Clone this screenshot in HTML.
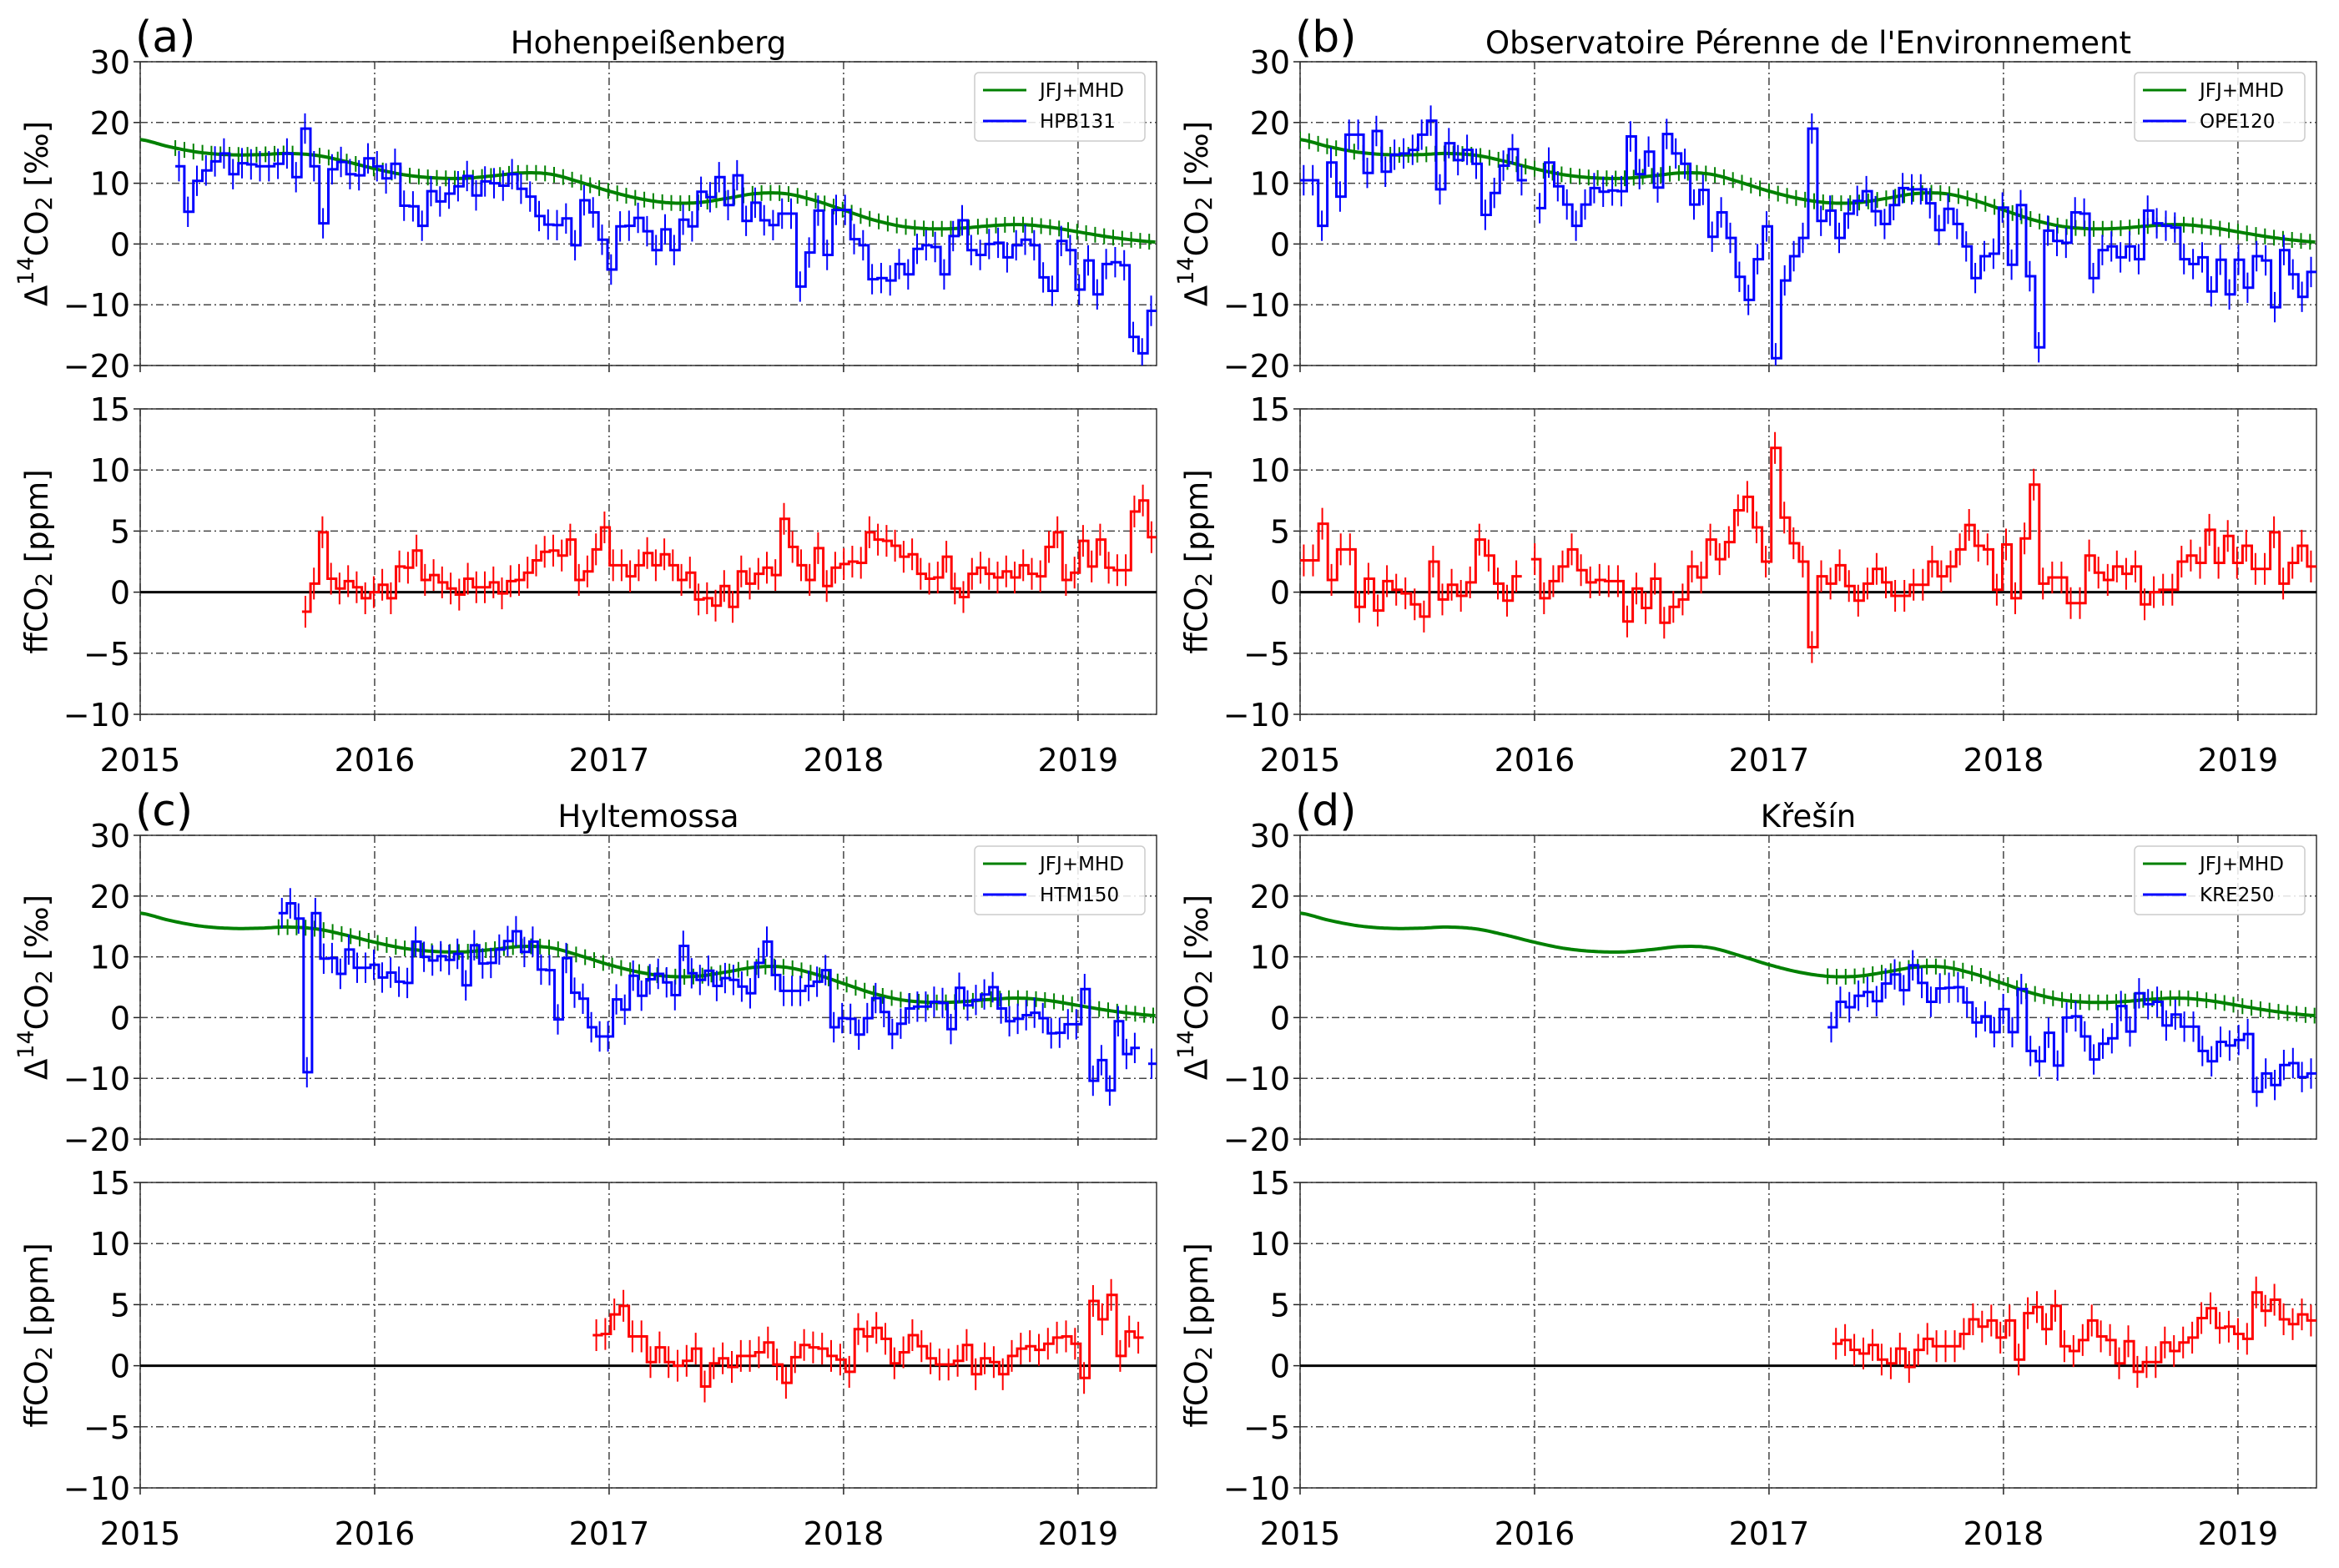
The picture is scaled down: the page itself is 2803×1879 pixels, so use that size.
<!DOCTYPE html>
<html><head><meta charset="utf-8"><style>
html,body{margin:0;padding:0;background:#fff;}
svg{display:block;font-family:"DejaVu Sans","Liberation Sans",sans-serif;}
</style></head><body>
<svg id="fig" xmlns="http://www.w3.org/2000/svg" width="2803" height="1879" viewBox="0 0 2803 1879"></svg>
<script>
// ---- shared reference curve (JFJ+MHD) ----
const greenYears=[2015,2015.125,2015.25,2015.375,2015.5,2015.625,2015.75,2015.875,2016,2016.125,2016.25,2016.375,2016.5,2016.625,2016.75,2016.875,2017,2017.125,2017.25,2017.375,2017.5,2017.625,2017.75,2017.875,2018,2018.125,2018.25,2018.375,2018.5,2018.625,2018.75,2018.875,2019,2019.125,2019.25,2019.34];
const greenVals=[17.2,16.0,15.1,14.7,14.7,14.9,14.6,13.6,12.4,11.4,10.9,10.8,11.2,11.7,11.5,10.2,8.7,7.5,6.8,6.8,7.5,8.3,8.3,7.2,5.6,4.0,2.9,2.5,2.6,3.0,3.2,2.8,2.0,1.2,0.6,0.3];
const xTickLabels=["2015","2016","2017","2018","2019"];
const topTickLabels=["30","20","10","0","\u221210","\u221220"];
const topTickVals=[30,20,10,0,-10,-20];
const botTickLabels=["15","10","5","0","\u22125","\u221210"];
const botTickVals=[15,10,5,0,-5,-10];

// ---- (a) Hohenpeissenberg ----
const aBlueRange=[2015.15,2019.335];
const aBlue=[12.8,5.3,10.4,12.1,13.6,14.9,11.5,13.3,13.1,12.8,12.8,13.2,14.9,11.0,19.0,12.8,3.4,12.3,13.5,11.5,11.3,14.1,12.8,10.8,13.2,6.3,
6.2,3,8.7,7,8.3,9.5,11.2,8,10.3,10,9.6,11.5,9.1,7.8,4.6,3.2,3.1,4.2,-0.2,7.2,5.2,0.7,-4.2,2.9,3,4.3,2.1,-1,2.4,-1,4,2.9,8.6,7.7,11,6.4,11.3,3.8,6.8,3.9,3.1,5,5,-7,-1.4,5.5,-1.8,5.6,5.6,0.8,-0.2,-5.8,-5.6,-6,-3.3,-5,-0.8,-0.2,-0.5,-5,1.3,3.9,-1,-1.8,0,0.2,-2.2,-0.2,0.7,-0.2,-5.5,-7.7,0.5,-1,-7.5,-2.7,-8.3,-3.3,-3,-3.5,-15.3,-18,-11];
const aRedRange=[2015.69,2019.335];
const aRed=[-1.6,0.7,4.9,1.1,0.3,0.9,0.4,-0.5,0,0.6,-0.5,2.1,2.0,3.4,1,1.4,0.8,0.3,-0.2,1.1,0.4,0.4,0.8,-0.1,0.9,1,1.6,2.6,3.3,3.4,3,4.3,1,1.7,3.5,5.3,2.2,2.2,1.3,2.2,3.2,2.2,3.1,2.2,1,1.6,-0.6,-0.5,-1.1,0.5,-1.2,1.7,0.7,1.5,2,1.4,6,3.7,2.2,1,3.6,0.5,2,2.3,2.5,2.4,4.9,4.3,4.2,3.8,2.9,3.1,1.5,1.1,1.2,2.9,0.3,-0.4,1.5,2,1.5,1.2,1.7,1.2,2.2,1.5,1.3,3.7,4.9,1,1.6,4.2,2.1,4.3,2,1.8,1.8,6.6,7.5,4.5];

// ---- (b) OPE ----
const bBlueRange=[2015.0,2019.335];
const bBlue=[10.5,10.5,3,13.4,7.8,18,18,11.7,18.6,11.9,14.7,14.9,15.5,18,20.3,9,16.6,13.8,15.5,13.2,4.8,8.4,12.9,15.6,10.5,null,5.9,13.4,9.5,6.5,3,6.5,9.2,8.6,8.8,8.7,17.7,11.5,15.2,9.3,18.1,14.9,13.2,6.5,8.9,1.2,5.2,1,-5.4,-9.2,-2.5,2.9,-18.8,-6,-2,1,19,3.8,5.5,1,5,7.1,8.7,5.4,3.3,6.4,9.2,9,9,6.7,2.3,5.8,3.3,-0.4,-5.6,-2,-1.6,6,-3.4,6.4,-5.3,-17,2.2,0.5,0.2,5.2,5,-5.6,-1,-0.4,-2.2,-0.4,-2.5,5.5,3.4,3,2.7,-2.5,-3.3,-2.2,-7.8,-2.6,-8.3,-2.6,-7.2,-2,-2.7,-10.4,-1,-5,-8.7,-4.6];
const bRedRange=[2015.0,2019.335];
const bRed=[2.6,2.6,5.6,1,3.5,3.5,-1.2,1.1,-1.5,0.9,0.2,-0.1,-1,-2,2.5,-0.6,0.6,-0.3,0.8,4.3,3,0.7,-0.7,1.3,null,2.7,-0.5,0.9,2.1,3.5,1.8,0.8,1,0.9,0.9,-2.4,0.3,-1.3,1.1,-2.5,-1.2,-0.6,2.1,1.2,4.3,2.7,4.1,6.7,7.8,5.3,2.5,11.8,6.1,4,2.5,-4.5,1.3,0.7,2.2,0.5,-0.7,0.7,1.9,0.8,-0.3,-0.3,0.6,0.6,2.5,1.3,2.1,3.5,5.5,3.8,3.5,0.2,3.9,-0.5,4.4,8.8,0.7,1.2,1.2,-0.9,-0.9,3,1.6,1,2.1,1.5,2.1,-1,0,0.2,0.2,2.5,3,2.4,5.1,2.4,4.6,2.4,3.8,1.9,1.9,4.9,0.7,2.4,3.8,2.1];

// ---- (c) Hyltemossa ----
const cBlueRange=[2015.59,2019.335];
const cBlue=[17.2,18.8,16.3,-9,17.2,9.7,9.8,7.2,11.2,8.2,8.2,8.7,6.6,7.4,5.9,5.7,12.5,10,9.4,10.1,9.5,10.5,5.3,11.9,8.9,9,11.2,12.6,14.2,10.8,12.5,7.9,7.8,-0.3,9.8,4.1,3.1,-1.6,-3.1,-3.1,3,1.3,6.9,3.6,6.3,7.2,5.8,3.7,11.8,7.3,6.2,7.7,5.2,6.5,6.2,5.1,4,9,12.5,7,4.4,4.4,4.4,5.2,5.9,7.8,-1.6,-0.1,-0.2,-2.8,-0.1,3.2,0.9,-2.7,-1,1.5,1.8,1.8,2.6,2.4,-1.9,4.9,2,2.9,3.8,5,1.5,-0.6,-0.2,0.4,0.8,-0.1,-2.6,-2.5,-1.1,-1.1,4.7,-10.4,-7,-12,-0.6,-6,-5,null,-7.6];
const cRedRange=[2016.93,2019.28];
const cRed=[2.5,2.6,4.2,4.9,2.4,2.4,0.3,1.5,0.3,0,0.4,1.4,-1.7,0.2,0.6,-0.1,0.8,0.8,1.1,1.9,0.1,-1.4,0.7,1.7,1.5,1.4,0.8,0.5,-0.5,3,2.4,3.1,2.2,0.2,1.1,2.5,1.6,0.6,0.1,0.1,0.4,1.7,-0.7,0.6,0.3,-0.7,0.8,1.4,1.6,1.3,1.8,2.3,2.4,1.8,-1,5.3,3.8,5.8,0.8,2.8,2.3];

// ---- (d) Kresin ----
const dBlueRange=[2017.25,2019.335];
const dBlue=[-1.6,2.6,1.7,3.6,4.2,2.7,5.6,7.1,4.5,8.6,5.7,2.6,4.8,4.9,5,2.5,-0.8,0.2,-2.4,1.4,-2.4,4.7,-5.5,-7.2,-2.5,-7.9,0,0.2,-3.1,-6.9,-4.3,-3.4,1.9,-2.3,4,2.2,2.6,-1.3,0.5,-1.5,-1.5,-5.5,-7.2,-4,-4.6,-3.7,-2.7,-12.2,-9.2,-11.1,-7.8,-7.5,-9.8,-9.2];
const dRedRange=[2017.27,2019.335];
const dRed=[1.8,2.1,1.3,1,1.7,0.5,0.2,1.4,-0.1,1.3,2.2,1.6,1.6,1.6,2.6,3.8,3.2,3.7,2.3,3.7,0.5,4.3,4.8,3,4.9,1.6,1.2,2.1,3.7,2.4,2.1,0.2,2,-0.5,0.3,0.3,1.9,1.2,1.9,2.3,3.9,4.7,3.1,3.2,2.6,2.2,6,4.5,5.4,3.8,3.4,4.2,3.7];

// ---- layout (not data) ----
const NS="http://www.w3.org/2000/svg";
const svg=document.getElementById('fig');
const XMIN=2015, XMAX=2019.335, AW=1218;
const panels=[
 {id:'a',L:168,T:74,label:'(a)',title:'Hohenpeißenberg',station:'HPB131',blue:aBlue,br:aBlueRange,red:aRed,rr:aRedRange},
 {id:'b',L:1558,T:74,label:'(b)',title:"Observatoire Pérenne de l'Environnement",station:'OPE120',blue:bBlue,br:bBlueRange,red:bRed,rr:bRedRange},
 {id:'c',L:168,T:1001,label:'(c)',title:'Hyltemossa',station:'HTM150',blue:cBlue,br:cBlueRange,red:cRed,rr:cRedRange},
 {id:'d',L:1558,T:1001,label:'(d)',title:'Křešín',station:'KRE250',blue:dBlue,br:dBlueRange,red:dRed,rr:dRedRange}
];
const TH=364, BOFF=416, BH=366;
function el(tag,attrs,parent){const e=document.createElementNS(NS,tag);for(const k in attrs)e.setAttribute(k,attrs[k]);(parent||svg).appendChild(e);return e;}
function catmull(xs,ys,t){
  let i=0;while(i<xs.length-2&&t>xs[i+1])i++;
  const p0=ys[Math.max(i-1,0)],p1=ys[i],p2=ys[i+1],p3=ys[Math.min(i+2,ys.length-1)];
  const u=Math.max(0,Math.min(1,(t-xs[i])/(xs[i+1]-xs[i])));
  return 0.5*((2*p1)+(-p0+p2)*u+(2*p0-5*p1+4*p2-p3)*u*u+(-p0+3*p1-3*p2+p3)*u*u*u);
}
function stepPath(vals,range,X,Y){
  const step=(range[1]-range[0])/vals.length;let d='';let prev=null;
  vals.forEach((v,i)=>{
    if(v===null){prev=null;return;}
    const x0=X(range[0]+i*step),x1=X(range[0]+(i+1)*step),y=Y(v);
    if(prev===null)d+=`M${x0.toFixed(1)},${y.toFixed(1)}`;else d+=`V${y.toFixed(1)}`;
    d+=`H${x1.toFixed(1)}`;prev=v;
  });return d;
}
function errPath(vals,range,X,Y,e){
  const step=(range[1]-range[0])/vals.length;let d='';
  vals.forEach((v,i)=>{if(v===null)return;const x=X(range[0]+(i+0.4)*step);d+=`M${x.toFixed(1)},${Y(v+e).toFixed(1)}V${Y(v-e).toFixed(1)}`;});
  return d;
}
panels.forEach(p=>{
  const g=el('g',{});
  
  
  const X=yr=>p.L+(yr-XMIN)/(XMAX-XMIN)*AW;
  const BT=p.T+BOFF;
  const Yt=v=>p.T+(30-v)/50*TH;
  const Yb=v=>BT+(15-v)/25*BH;
  const cpT=el('clipPath',{id:'ct'+p.id},g);el('rect',{x:p.L,y:p.T,width:AW,height:TH},cpT);
  const cpB=el('clipPath',{id:'cb'+p.id},g);el('rect',{x:p.L,y:BT,width:AW,height:BH},cpB);
  const lab=el('text',{x:p.L-6,y:p.T-12,'font-size':52,fill:'#000'},g);lab.textContent=p.label;
  
  
  const tt=el('text',{x:p.L+AW/2,y:p.T-10,'font-size':37,'text-anchor':'middle',fill:'#000'},g);
  tt.textContent=p.title;
  
  
  [[p.T,TH,'top'],[BT,BH,'bottom']].forEach(([top,h,kind])=>{
    const ag=el('g',{},g);
    
    
    const Y=kind==='top'?Yt:Yb;
    const tv=kind==='top'?topTickVals:botTickVals, tl=kind==='top'?topTickLabels:botTickLabels;
    xTickLabels.forEach((s,i)=>{const x=X(2015+i);
      const gl=el('line',{x1:x,x2:x,y1:top,y2:top+h,stroke:'#444','stroke-width':1.5,'stroke-dasharray':'9,4,2,4'},ag);
      
      
      el('line',{x1:x,x2:x,y1:top+h,y2:top+h+8,stroke:'#222','stroke-width':1.5},ag);
      if(kind==='bottom'){const t=el('text',{x:x,y:top+h+68,'font-size':38,'text-anchor':'middle',fill:'#000'},ag);t.textContent=s;
        
        }
    });
    tv.forEach((v,i)=>{const y=Y(v);
      const gl=el('line',{x1:p.L,x2:p.L+AW,y1:y,y2:y,stroke:'#444','stroke-width':1.5,'stroke-dasharray':'9,4,2,4'},ag);
      
      
      el('line',{x1:p.L-8,x2:p.L,y1:y,y2:y,stroke:'#222','stroke-width':1.5},ag);
      const t=el('text',{x:p.L-12,y:y+14,'font-size':38,'text-anchor':'end',fill:'#000'},ag);t.textContent=tl[i];
      
      
    });
    const fr=el('rect',{x:p.L,y:top,width:AW,height:h,fill:'none',stroke:'#333','stroke-width':1.5},ag);
    
    
    const cy=top+h/2, lx=p.L-122;
    const yl=el('text',{x:lx,y:cy,'font-size':37,'text-anchor':'middle',transform:`rotate(-90 ${lx} ${cy})`,fill:'#000','dominant-baseline':'middle'},ag);
    if(kind==='top'){yl.innerHTML='Δ<tspan dy="-14" font-size="27">14</tspan><tspan dy="14">CO</tspan><tspan dy="8" font-size="27">2</tspan><tspan dy="-8"> [‰]</tspan>';}
    else{yl.innerHTML='ffCO<tspan dy="8" font-size="27">2</tspan><tspan dy="-8"> [ppm]</tspan>';}
    
    
  });
  const zl=el('line',{x1:p.L,x2:p.L+AW,y1:Yb(0),y2:Yb(0),stroke:'#000','stroke-width':3},g);
  
  
  const cgT=el('g',{'clip-path':`url(#ct${p.id})`},g);
  let gd='';for(let t=XMIN;t<=XMAX+0.001;t+=0.01){const v=catmull(greenYears,greenVals,t);gd+=(gd?'L':'M')+X(t).toFixed(1)+','+Yt(v).toFixed(1);}
  const gp=el('path',{d:gd,fill:'none',stroke:'#008000','stroke-width':4},cgT);
  
  
  let ge='';for(let t=p.br[0];t<=XMAX;t+=1/26){const v=catmull(greenYears,greenVals,t);ge+=`M${X(t).toFixed(1)},${Yt(v+1.3).toFixed(1)}V${Yt(v-1.3).toFixed(1)}`;}
  const gep=el('path',{d:ge,fill:'none',stroke:'#008000','stroke-width':2},cgT);
  
  
  const be=el('path',{d:errPath(p.blue,p.br,X,Yt,2.5),fill:'none',stroke:'#0000ff','stroke-width':2},cgT);
  
  
  const bp=el('path',{d:stepPath(p.blue,p.br,X,Yt),fill:'none',stroke:'#0000ff','stroke-width':3},cgT);
  
  
  const cgB=el('g',{'clip-path':`url(#cb${p.id})`},g);
  const re=el('path',{d:errPath(p.red,p.rr,X,Yb,1.3),fill:'none',stroke:'#ff0000','stroke-width':2},cgB);
  
  
  const rp=el('path',{d:stepPath(p.red,p.rr,X,Yb),fill:'none',stroke:'#ff0000','stroke-width':3},cgB);
  
  
  const lg=el('g',{},g);
  
  
  const lr=p.L+AW-14, ll=lr-204;
  el('rect',{x:ll,y:p.T+13,width:204,height:82,rx:5,fill:'#fff','fill-opacity':0.85,stroke:'#ccc','stroke-width':1.5},lg);
  [['JFJ+MHD','#008000'],[p.station,'#0000ff']].forEach(([s,c],i)=>{
    const y=p.T+34+i*37;
    el('line',{x1:ll+10,x2:ll+62,y1:y,y2:y,stroke:c,'stroke-width':3},lg);
    const t=el('text',{x:ll+78,y:y+8,'font-size':23,fill:'#000'},lg);t.textContent=s;
    
    
  });
});
</script>
</body></html>
